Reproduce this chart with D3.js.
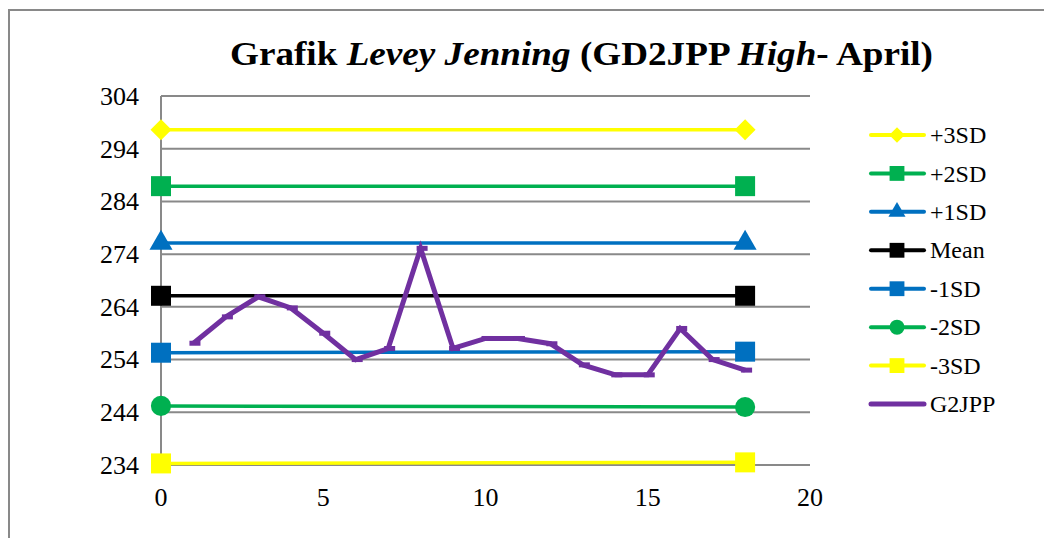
<!DOCTYPE html>
<html><head><meta charset="utf-8">
<script src="https://cdn.jsdelivr.net/npm/d3@7/dist/d3.min.js"></script>
<style>
html,body{margin:0;padding:0;background:#fff;}
svg{display:block;font-family:"Liberation Serif","Times New Roman",serif;}
</style></head>
<body><svg id="c" width="1044" height="538"></svg>
<script>
const controlX = [0, 18];
const plus3SD = [297.6, 297.6];
const plus2SD = [286.9, 286.9];
const plus1SD = [276.1, 276.1];
const meanLine = [266.1, 266.1];
const minus1SD = [255.3, 255.5];
const minus2SD = [245.2, 245.0];
const minus3SD = [234.3, 234.5];
const g2jppX = [1,2,3,4,5,6,7,8,9,10,11,12,13,14,15,16,17,18];
const g2jppY = [257.1,262.1,265.9,263.8,259.0,254.0,256.1,275.1,256.1,258.0,258.0,257.0,253.0,251.1,251.1,259.9,254.0,252.0];
const yTicks = [234,244,254,264,274,284,294,304];
const xTicks = [0,5,10,15,20];
const seriesNames = ["+3SD","+2SD","+1SD","Mean","-1SD","-2SD","-3SD","G2JPP"];

const svg = d3.select("#c");
svg.append("rect").attr("x",9).attr("y",10).attr("width",1100).attr("height",600)
  .attr("fill","none").attr("stroke","#898989").attr("stroke-width",2);

const x = d3.scaleLinear().domain([0,20]).range([161,810]);
const y = d3.scaleLinear().domain([234,304]).range([465,96]);

svg.append("g").selectAll("line").data(yTicks).join("line")
  .attr("x1",x(0)).attr("x2",x(20)).attr("y1",d=>y(d)).attr("y2",d=>y(d))
  .attr("stroke","#898989").attr("stroke-width",2);
svg.append("line").attr("x1",x(0)).attr("x2",x(0)).attr("y1",y(304)).attr("y2",y(234))
  .attr("stroke","#898989").attr("stroke-width",2);

svg.append("g").selectAll("text").data(yTicks).join("text")
  .attr("x",139).attr("y",d=>y(d)).attr("dy","0.34em").attr("text-anchor","end")
  .attr("font-size",26).text(d=>d);
svg.append("g").selectAll("text").data(xTicks).join("text")
  .attr("x",d=>x(d)).attr("y",506).attr("text-anchor","middle")
  .attr("font-size",26).text(d=>d);

const t = svg.append("text").attr("x",230).attr("y",65)
  .attr("font-size",34).attr("font-weight","bold")
  .attr("textLength",703).attr("lengthAdjust","spacingAndGlyphs");
t.append("tspan").text("Grafik ");
t.append("tspan").attr("font-style","italic").text("Levey Jenning");
t.append("tspan").text(" (GD2JPP ");
t.append("tspan").attr("font-style","italic").text("High");
t.append("tspan").text("- April)");

const diamond = {draw(ctx,size){const r=Math.sqrt(size)/2;ctx.moveTo(0,-r);ctx.lineTo(r,0);ctx.lineTo(0,r);ctx.lineTo(-r,0);ctx.closePath();}};
const series = [
  {name:seriesNames[0], vals:plus3SD, color:"#FFFF00", sym:diamond, symSize:440},
  {name:seriesNames[1], vals:plus2SD, color:"#00B050", sym:d3.symbolSquare, symSize:400},
  {name:seriesNames[2], vals:plus1SD, color:"#0070C0", sym:d3.symbolTriangle, symSize:230},
  {name:seriesNames[3], vals:meanLine, color:"#000000", sym:d3.symbolSquare, symSize:400},
  {name:seriesNames[4], vals:minus1SD, color:"#0070C0", sym:d3.symbolSquare, symSize:400},
  {name:seriesNames[5], vals:minus2SD, color:"#00B050", sym:d3.symbolCircle, symSize:320},
  {name:seriesNames[6], vals:minus3SD, color:"#FFFF00", sym:d3.symbolSquare, symSize:400}
];

const line = d3.line().x(d=>x(d[0])).y(d=>y(d[1]));
series.forEach(s=>{
  const pts = controlX.map((cx,i)=>[cx,s.vals[i]]);
  svg.append("path").attr("d",line(pts)).attr("fill","none")
    .attr("stroke",s.color).attr("stroke-width",3.5);
  svg.append("g").selectAll("path").data(pts).join("path")
    .attr("d",d3.symbol(s.sym,s.symSize)())
    .attr("transform",d=>`translate(${x(d[0])},${y(d[1])})`)
    .attr("fill",s.color);
});

const gpts = g2jppX.map((gx,i)=>[gx,g2jppY[i]]);
svg.append("path").attr("d",line(gpts)).attr("fill","none")
  .attr("stroke","#7030A0").attr("stroke-width",5).attr("stroke-linejoin","miter");
svg.append("g").selectAll("rect").data(gpts).join("rect")
  .attr("x",d=>x(d[0])-4).attr("y",d=>y(d[1])-2.5).attr("width",11).attr("height",5)
  .attr("fill","#7030A0");

const legY = d3.scalePoint().domain(seriesNames).range([135,404]);
const leg = svg.append("g");
const allLeg = series.concat([{name:seriesNames[7], color:"#7030A0", sym:null, lw:5}]);
allLeg.forEach(s=>{
  const yy = legY(s.name);
  leg.append("line").attr("x1",871).attr("x2",924).attr("y1",yy).attr("y2",yy)
    .attr("stroke",s.color).attr("stroke-width",s.lw||4).attr("stroke-linecap","round");
  if(s.sym){
    leg.append("path").attr("d",d3.symbol(s.sym,s.symSize*0.55)())
      .attr("transform",`translate(897,${yy})`).attr("fill",s.color);
  }
  leg.append("text").attr("x",930).attr("y",yy).attr("dy","0.34em")
    .attr("font-size",24).text(s.name);
});
</script></body></html>
